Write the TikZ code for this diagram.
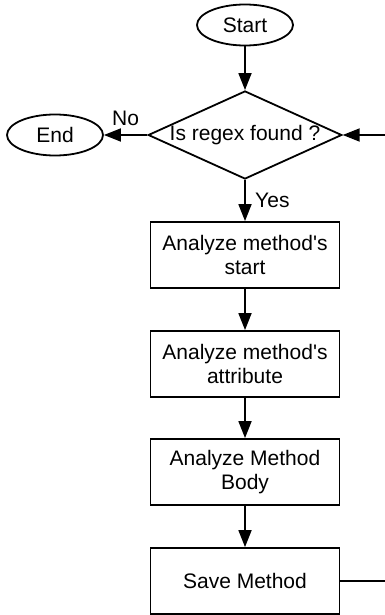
\documentclass[tikz,border=0pt]{standalone}
\usepackage{fontspec}
\setmainfont{Liberation Sans}
\usetikzlibrary{shapes.geometric,arrows.meta,positioning}

\begin{document}
\begin{tikzpicture}[->,>={Triangle[length=17pt,width=13pt]},line width=1.8pt,auto,node distance=109pt,
  term node/.style={ellipse,draw,minimum width=96pt,minimum height=41pt,inner sep=0pt,font=\fontsize{21}{24}\selectfont},
  test node/.style={diamond,draw,aspect=2.2,minimum width=186pt,minimum height=85pt,inner sep=0pt,font=\fontsize{21}{24}\selectfont},
  main node/.style={rectangle,draw,minimum width=189pt,minimum height=66pt,align=center,font=\fontsize{21}{24}\selectfont}]
                \useasboundingbox (0pt,0pt) rectangle (385pt,-615pt);
                \node[term node] (1) at (245pt,-25pt) {Start};
                \node[test node] (2) [below of=1,node distance=110pt] {Is regex found ?};
                \node[term node] (3) [left of=2,node distance=190pt] {End};
                \node[main node] (4) [below of=2,node distance=120pt] {Analyze method\textquotesingle s\\start};
                \node[main node] (5) [below of=4] {Analyze method\textquotesingle s\\attribute};
                \node[main node] (6) [below of=5,node distance=108pt] {Analyze Method\\Body};
                \node[main node] (7) [below of=6] {Save Method};
                \coordinate (rim) at (385pt,0pt);
                \coordinate (8) at (2 -| rim);
                \coordinate (9) at (7 -| rim);

                \path[every node/.style={font=\fontsize{21}{24}\selectfont}]
                    (1) edge (2)
                    (2) edge node[above=5pt] {No} (3)
                    (2) edge node[right=6pt] {Yes} (4)
                    (4) edge (5)
                    (5) edge (6)
                    (6) edge (7)
                    (7) edge[-] (9)
                    (8) edge (2)
                    ;
            \end{tikzpicture}
\end{document}
